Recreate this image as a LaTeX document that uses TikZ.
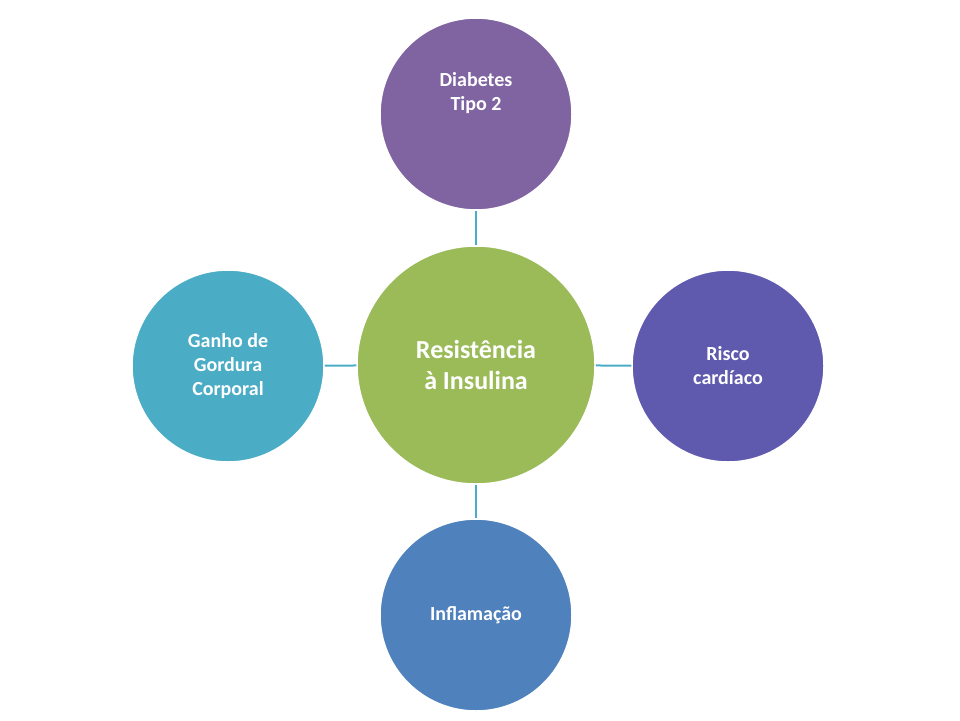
\documentclass[tikz,border=0pt]{standalone}
\usepackage{fontspec}
\setmainfont{Carlito}
\begin{document}
\begin{tikzpicture}[x=1pt,y=-1pt,
  circ/.style={circle,draw=white,line width=1.5pt,text=white,font=\bfseries\fontsize{20}{24}\selectfont,align=center,inner sep=0pt},
  conn/.style={draw=cyan!60!blue!70!white,line width=2pt,color={rgb,255:red,75;green,172;blue,198}}]
\useasboundingbox (0,0) rectangle (960,720);
\definecolor{cgreen}{RGB}{155,187,89}
\definecolor{cpurple}{RGB}{128,100,162}
\definecolor{cviolet}{RGB}{95,90,174}
\definecolor{cblue}{RGB}{79,129,189}
\definecolor{cteal}{RGB}{75,172,198}
\node[circ,fill=cgreen,minimum size=238,font=\bfseries\fontsize{26}{31}\selectfont] (c) at (476,365) {Resistência\\à Insulina};
\node[circ,fill=cpurple,minimum size=192] (t) at (476,114) {Diabetes\\Tipo 2\\[22pt]};
\node[circ,fill=cviolet,minimum size=192] (r) at (728,366) {Risco\\cardíaco};
\node[circ,fill=cblue,minimum size=192] (b) at (476,615) {Inflamação};
\node[circ,fill=cteal,minimum size=192] (l) at (228,366) {Ganho de\\Gordura\\Corporal};
\draw[conn] (c) -- (t);
\draw[conn] (c) -- (r);
\draw[conn] (c) -- (b);
\draw[conn] (c) -- (l);
\end{tikzpicture}
\end{document}
